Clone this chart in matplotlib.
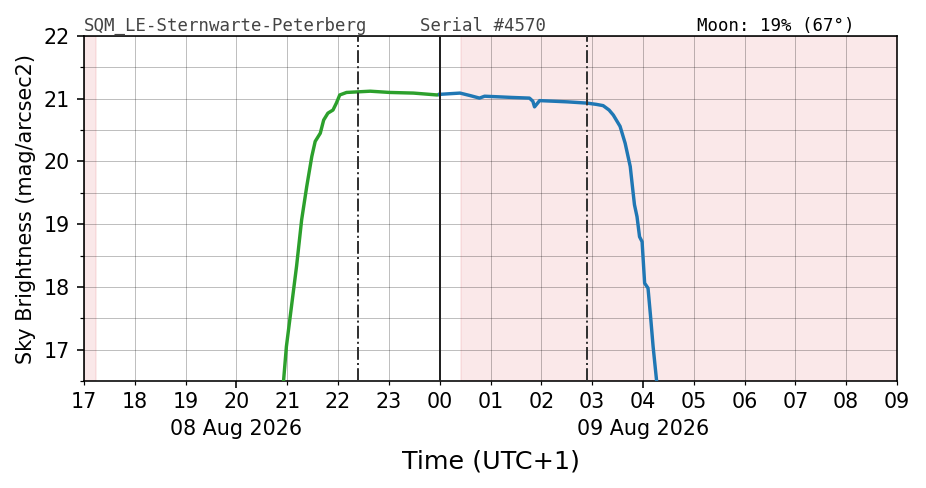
import matplotlib
matplotlib.use("Agg")
import matplotlib.pyplot as plt
import matplotlib.dates as mdates
from matplotlib.ticker import FixedLocator, MultipleLocator
from datetime import datetime

# ---- data ----
station = "SQM_LE-Sternwarte-Peterberg"
serial = "Serial #4570"
moon = "Moon: 19% (67\u00b0)"

green_times = ["08 20:55", "08 20:59", "08 21:05", "08 21:11", "08 21:17", "08 21:23",
               "08 21:29", "08 21:33", "08 21:39", "08 21:43", "08 21:48", "08 21:54",
               "08 21:58", "08 22:02", "08 22:10", "08 22:24", "08 22:38", "08 23:01",
               "08 23:29", "08 23:57", "09 00:00"]
green_vals = [16.40, 17.05, 17.69, 18.33, 19.07, 19.60,
              20.08, 20.32, 20.45, 20.66, 20.77, 20.82,
              20.93, 21.06, 21.10, 21.11, 21.12, 21.10,
              21.09, 21.06, 21.07]

blue_times = ["09 00:00", "09 00:12", "09 00:24", "09 00:36", "09 00:47", "09 00:53",
              "09 01:10", "09 01:26", "09 01:46", "09 01:50", "09 01:52", "09 01:55",
              "09 01:58", "09 02:15", "09 02:31", "09 02:54", "09 03:05", "09 03:13",
              "09 03:20", "09 03:25", "09 03:33", "09 03:39", "09 03:45", "09 03:48",
              "09 03:50", "09 03:53", "09 03:56", "09 03:59", "09 04:02", "09 04:06",
              "09 04:09", "09 04:12", "09 04:16", "09 04:17"]
blue_vals = [21.07, 21.08, 21.09, 21.05, 21.01, 21.04,
             21.03, 21.02, 21.01, 20.96, 20.87, 20.92,
             20.97, 20.96, 20.95, 20.93, 20.91, 20.89,
             20.82, 20.74, 20.56, 20.29, 19.92, 19.55,
             19.31, 19.12, 18.80, 18.72, 18.06, 17.98,
             17.53, 17.05, 16.52, 16.40]

twilight_spans = [("08 17:00", "08 17:14"), ("09 00:25", "09 09:00")]
dashdot_times = ["08 22:23", "09 02:54"]
midnight = "09 00:00"

x_start, x_end = "08 17:00", "09 09:00"
y_min, y_max = 16.5, 22
date_ticks = ["08 20:00", "09 04:00"]
date_labels = ["08 Aug 2026", "09 Aug 2026"]


def t(s):
    day, hm = s.split()
    h, m = hm.split(":")
    return datetime(2026, 8, int(day), int(h), int(m))


fig = plt.figure(figsize=(926 / 144, 488 / 144), dpi=144)
ax = fig.add_axes([84 / 926, 1 - 381 / 488, (897 - 84) / 926, (381 - 36) / 488])

for a, b in twilight_spans:
    ax.axvspan(t(a), t(b), color="#e88f95", alpha=0.2, lw=0.8, zorder=0)

ax.plot([t(s) for s in green_times], green_vals, color="#2ca02c", lw=1.7, zorder=3)
ax.plot([t(s) for s in blue_times], blue_vals, color="#1f77b4", lw=1.7, zorder=3)

for s in dashdot_times:
    ax.axvline(t(s), color="#333333", lw=1.0, ls="-.", zorder=4)
ax.axvline(t(midnight), color="#222222", lw=1.0, zorder=4)

ax.set_xlim(t(x_start), t(x_end))
ax.set_ylim(y_min, y_max)

# x ticks: hourly minor ticks, longer major ticks at the date centres
ax.xaxis.set_minor_locator(mdates.HourLocator())
ax.xaxis.set_minor_formatter(mdates.DateFormatter("%H"))
ax.xaxis.set_major_locator(FixedLocator([mdates.date2num(t(s)) for s in date_ticks]))
ax.xaxis.set_major_formatter(mdates.DateFormatter("%H"))
ax.tick_params(axis="x", which="major", length=3.5, pad=2.0, labelsize=10.3)
ax.tick_params(axis="x", which="minor", length=2, pad=3.5, labelsize=10.3)

for s, lab in zip(date_ticks, date_labels):
    ax.annotate(lab, xy=(t(s), 0), xycoords=("data", "axes fraction"),
                xytext=(0, -19), textcoords="offset points",
                ha="center", va="top", fontsize=10.3)

# y ticks
ax.yaxis.set_major_locator(MultipleLocator(1))
ax.yaxis.set_minor_locator(MultipleLocator(0.5))
ax.tick_params(axis="y", which="major", length=3.5, labelsize=10.3)
ax.tick_params(axis="y", which="minor", length=2)

ax.grid(True, which="both", axis="y", color="k", alpha=0.25, lw=0.5)
ax.grid(True, which="both", axis="x", color="k", alpha=0.25, lw=0.5)

ax.set_ylabel("Sky Brightness (mag/arcsec2)", fontsize=10.4)
ax.set_xlabel("Time (UTC+1)", fontsize=12.7, labelpad=19)

fig.text(84 / 926, 1 - 31 / 488, station, family="DejaVu Sans Mono", fontsize=8.7,
         color="#444444", va="baseline")
fig.text(420 / 926, 1 - 31 / 488, serial, family="DejaVu Sans Mono", fontsize=8.7,
         color="#444444", va="baseline")
fig.text(697 / 926, 1 - 31 / 488, moon, family="DejaVu Sans Mono", fontsize=8.7,
         color="black", va="baseline")

fig.savefig("out.png", dpi=144)
